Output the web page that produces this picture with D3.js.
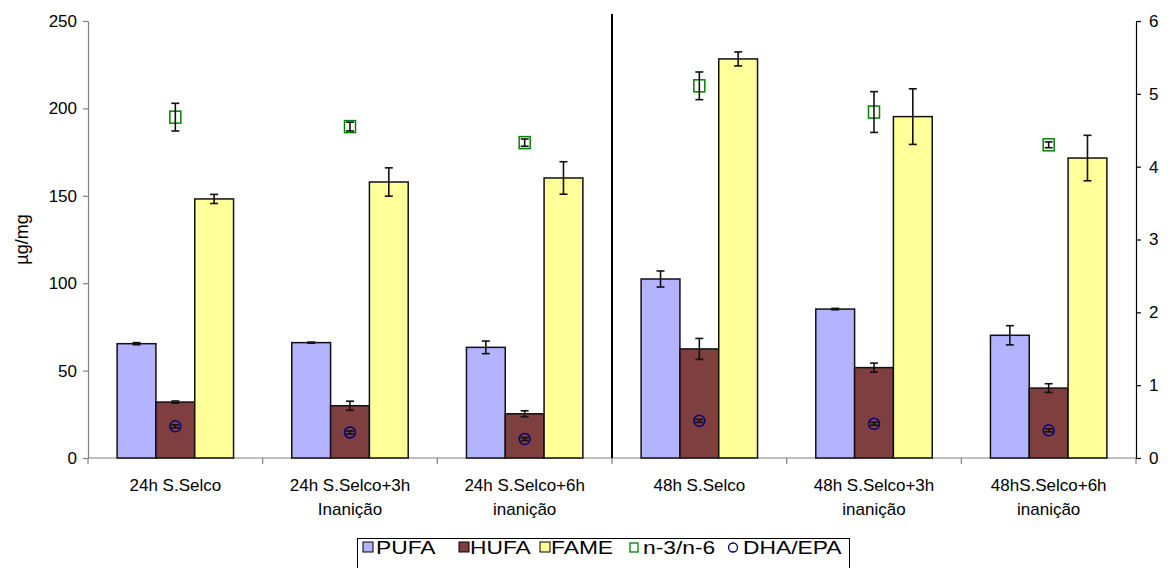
<!DOCTYPE html>
<html><head><meta charset="utf-8">
<script src="https://cdn.jsdelivr.net/npm/d3@7"></script>
<style>body{margin:0;background:#fff}svg{font-family:"Liberation Sans",Arial,sans-serif}</style>
</head><body><svg id="c" width="1168" height="568"></svg>
<script>
const categories = [["24h S.Selco"],["24h S.Selco+3h","Inanição"],["24h S.Selco+6h","inanição"],["48h S.Selco"],["48h S.Selco+3h","inanição"],["48hS.Selco+6h","inanição"]];
const pufa = [65.4, 66.0, 63.3, 102.4, 85.2, 70.2];
const pufaErr = [0.6, 0.3, 3.6, 4.6, 0.4, 5.5];
const hufa = [32.0, 29.9, 25.3, 62.4, 51.7, 40.0];
const hufaErr = [0.6, 2.6, 1.7, 6.0, 2.6, 2.5];
const fame = [148.2, 157.9, 160.2, 228.3, 195.3, 171.6];
const fameErr = [2.6, 8.1, 9.3, 4.0, 15.9, 13.0];
const n3n6 = [4.68, 4.55, 4.33, 5.11, 4.75, 4.30];
const n3n6Err = [0.19, 0.06, 0.05, 0.19, 0.28, 0.04];
const dhaEpa = [0.435, 0.35, 0.26, 0.51, 0.47, 0.38];
const dhaEpaErr = [0.02, 0.02, 0.02, 0.02, 0.02, 0.02];
const leftTicks = [0,50,100,150,200,250];
const rightTicks = [0,1,2,3,4,5,6];
const seriesNames = ["PUFA","HUFA","FAME","n-3/n-6","DHA/EPA"];

const FONT = "Liberation Sans, Arial, sans-serif";
const svg = d3.select("#c");
const L = 88, R = 1136, T = 21, B = 458;
const x0 = d3.scaleBand().domain(d3.range(6)).range([L, R]).paddingInner(0).paddingOuter(0);
const bw = x0.bandwidth();
const x1 = d3.scaleBand().domain([0,1,2]).range([bw*0.1667, bw*0.8333]).padding(0);
const yL = d3.scaleLinear().domain([0,250]).range([B, T]);
const yR = d3.scaleLinear().domain([0,6]).range([B, T]);
const colors = ["#b3b3ff","#7f3f3f","#ffff99"];
const barData = [pufa, hufa, fame];
const barErr = [pufaErr, hufaErr, fameErr];

// bottom axis
const gx = svg.append("g").attr("transform",`translate(0,${B})`);
gx.append("line").attr("x1",L).attr("x2",R).attr("stroke","#808080").attr("stroke-width",1.2);
d3.range(7).forEach(i=>{
  const xx = L + i*bw;
  gx.append("line").attr("x1",xx).attr("x2",xx).attr("y1",0).attr("y2",6).attr("stroke","#808080").attr("stroke-width",1.2);
});

// bars
barData.forEach((arr, s)=>{
  svg.append("g").selectAll("rect").data(arr).join("rect")
    .attr("x",(d,i)=>x0(i)+x1(s)).attr("width",x1.bandwidth())
    .attr("y",d=>yL(d)).attr("height",d=>B-yL(d))
    .attr("fill",colors[s]).attr("stroke","#111").attr("stroke-width",1.5);
});

function errBars(vals, errs, xf, y){
  const g = svg.append("g").attr("stroke","#111").attr("stroke-width",1.6);
  vals.forEach((v,i)=>{
    const xx = xf(i), e = errs[i];
    g.append("line").attr("x1",xx).attr("x2",xx).attr("y1",y(v+e)).attr("y2",y(v-e));
    g.append("line").attr("x1",xx-4).attr("x2",xx+4).attr("y1",y(v+e)).attr("y2",y(v+e));
    g.append("line").attr("x1",xx-4).attr("x2",xx+4).attr("y1",y(v-e)).attr("y2",y(v-e));
  });
}
barData.forEach((arr,s)=>errBars(arr, barErr[s], i=>x0(i)+x1(s)+x1.bandwidth()/2, yL));

const cx = i=>x0(i)+bw/2;
// n-3/n-6 squares
svg.append("g").selectAll("rect").data(n3n6).join("rect")
  .attr("x",(d,i)=>cx(i)-5.5).attr("y",d=>yR(d)-6).attr("width",11).attr("height",12)
  .attr("fill","none").attr("stroke","#008000").attr("stroke-width",1.5);
errBars(n3n6, n3n6Err, cx, yR);
// DHA/EPA circles
svg.append("g").selectAll("circle").data(dhaEpa).join("circle")
  .attr("cx",(d,i)=>cx(i)).attr("cy",d=>yR(d)).attr("r",5.5)
  .attr("fill","none").attr("stroke","#000080").attr("stroke-width",1.5);
errBars(dhaEpa, dhaEpaErr, cx, yR);

// divider
svg.append("line").attr("x1",x0(3)).attr("x2",x0(3)).attr("y1",14).attr("y2",B)
  .attr("stroke","#000").attr("stroke-width",2);

// left axis
const gl = svg.append("g").attr("transform",`translate(${L},0)`)
  .call(d3.axisLeft(yL).tickValues(leftTicks).tickFormat(d3.format("d")).tickSize(5).tickSizeOuter(0));
gl.attr("font-size",17).attr("font-family",FONT);
gl.select(".domain").attr("stroke","#808080").attr("stroke-width",1.2);
gl.selectAll(".tick line").attr("stroke","#808080").attr("stroke-width",1.2);
gl.selectAll("text").attr("fill","#000").attr("x",-11);

// right axis
const gr = svg.append("g").attr("transform",`translate(${R},0)`)
  .call(d3.axisRight(yR).tickValues(rightTicks).tickFormat(d3.format("d")).tickSize(5).tickSizeOuter(0));
gr.attr("font-size",17).attr("font-family",FONT);
gr.select(".domain").attr("stroke","#000").attr("stroke-width",1.2);
gr.selectAll(".tick line").attr("stroke","#000").attr("stroke-width",1.2);
gr.selectAll("text").attr("fill","#000").attr("x",13);

// y label
svg.append("text").attr("transform",`translate(28,${(T+B)/2}) rotate(-90)`)
  .attr("text-anchor","middle").attr("font-size",18).text("µg/mg");

// x labels
categories.forEach((lines,i)=>{
  const t = svg.append("text").attr("text-anchor","middle").attr("font-size",17);
  lines.forEach((ln,k)=>t.append("tspan").attr("x",cx(i)).attr("y",491+k*24).text(ln));
});

// legend
const lg = svg.append("g");
lg.append("rect").attr("x",357.5).attr("y",538.5).attr("width",492).attr("height",40)
  .attr("fill","#fff").attr("stroke","#000").attr("stroke-width",1);
const legSwatchX = [363, 459, 540, 630, 733];
const legTextX = [376, 470, 551, 643, 743];
seriesNames.forEach((n,s)=>{
  const lx = legSwatchX[s];
  if (s<3){
    lg.append("rect").attr("x",lx).attr("y",542).attr("width",10).attr("height",10)
      .attr("fill",colors[s]).attr("stroke","#000").attr("stroke-width",1);
  } else if (s===3){
    lg.append("rect").attr("x",lx).attr("y",543).attr("width",8).attr("height",9)
      .attr("fill","none").attr("stroke","#008000").attr("stroke-width",1.3);
  } else {
    lg.append("circle").attr("cx",lx).attr("cy",547.5).attr("r",4.5)
      .attr("fill","none").attr("stroke","#000080").attr("stroke-width",1.3);
  }
  const t = lg.append("text").attr("x",legTextX[s]).attr("y",554).attr("font-size",19).text(n);
  const w = t.node().getComputedTextLength();
  t.attr("textLength", w*1.2).attr("lengthAdjust","spacingAndGlyphs");
});
</script></body></html>
